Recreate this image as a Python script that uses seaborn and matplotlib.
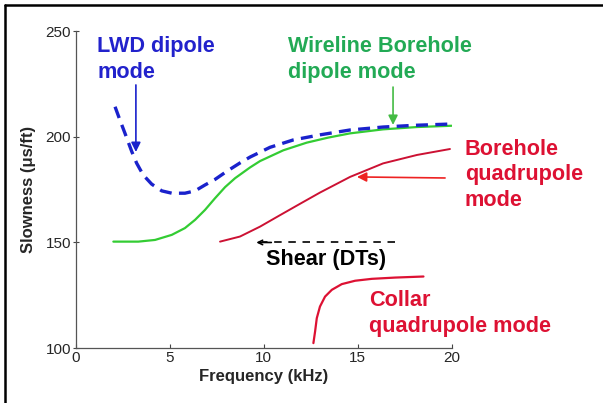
import matplotlib
matplotlib.use("Agg")
import matplotlib.pyplot as plt
import seaborn as sns
import pandas as pd
from matplotlib.lines import Line2D

# ---- data ----
lwd_freq = [2.08, 2.34, 2.61, 2.97, 3.23, 3.58, 4.03, 4.57, 5.10, 5.80, 6.34, 6.87,
            7.40, 8.02, 8.73, 9.27, 10.33, 11.57, 12.99, 14.59, 16.35, 18.0, 19.9]
lwd_slow = [214.2, 207.9, 201.6, 193.0, 187.5, 181.9, 177.6, 174.4, 173.3, 173.3, 174.4, 177.2,
            179.8, 183.6, 187.6, 190.4, 195.0, 198.5, 200.9, 203.2, 204.6, 205.4, 206.0]

wire_freq = [1.99, 3.32, 4.21, 5.10, 5.80, 6.34, 6.87, 7.40, 7.94, 8.47, 9.27, 9.80,
             11.04, 12.28, 13.43, 14.59, 16.35, 18.16, 20.0]
wire_slow = [150.4, 150.4, 151.2, 153.6, 156.8, 160.7, 165.4, 170.9, 176.2, 180.4, 185.5, 188.5,
             193.6, 197.2, 199.6, 201.6, 203.5, 204.6, 205.2]

bh_freq = [7.67, 8.73, 9.80, 10.86, 11.93, 12.99, 14.59, 16.35, 18.16, 19.91]
bh_slow = [150.4, 152.8, 157.5, 162.9, 168.3, 173.6, 181.0, 187.4, 191.4, 194.2]

collar_freq = [12.64, 12.73, 12.82, 12.99, 13.26, 13.62, 14.15, 14.86, 15.75, 16.99, 18.50]
collar_slow = [102.4, 107.9, 114.2, 119.7, 124.4, 127.6, 130.3, 131.9, 132.8, 133.4, 133.9]

shear_freq = [17.0, 9.9]
shear_slow = [150.0, 150.0]

x_ticks = [0, 5, 10, 15, 20]
y_ticks = [100, 150, 200, 250]

sns.set_style("ticks")
plt.rcParams['font.family'] = ['Liberation Sans', 'DejaVu Sans']

fig = plt.figure(figsize=(6.03, 4.03), dpi=100)
ax = fig.add_axes([0.126, 0.136, 0.623, 0.787])

def df(x, y):
    return pd.DataFrame({"freq": x, "slow": y})

sns.lineplot(data=df(wire_freq, wire_slow), x="freq", y="slow", ax=ax,
             color="#33cc33", lw=1.6, sort=False)
sns.lineplot(data=df(lwd_freq, lwd_slow), x="freq", y="slow", ax=ax,
             color="#1a22cc", lw=2.4, sort=False)
ax.lines[-1].set_dashes((3.6, 2.2))
sns.lineplot(data=df(bh_freq, bh_slow), x="freq", y="slow", ax=ax,
             color="#cc1133", lw=1.4, sort=False)
sns.lineplot(data=df(collar_freq, collar_slow), x="freq", y="slow", ax=ax,
             color="#dd1133", lw=1.6, sort=False)
sns.lineplot(data=df(shear_freq, shear_slow), x="freq", y="slow", ax=ax,
             color="black", lw=1.2, sort=False)
ax.lines[-1].set_dashes((4.5, 4))
ax.annotate("", xy=(9.6, 150), xytext=(10.4, 150),
            arrowprops=dict(arrowstyle="->", color="black", lw=1.2,
                            shrinkA=0, shrinkB=0, mutation_scale=8))

ax.set_xlim(0, 20)
ax.set_ylim(100, 250)
ax.set_xticks(x_ticks)
ax.set_yticks(y_ticks)
ax.tick_params(axis="x", direction="in", length=3, labelsize=11, pad=2, color="#444444")
ax.tick_params(axis="y", direction="inout", length=5, labelsize=11, pad=1, color="#444444")
for s in ["left", "bottom"]:
    ax.spines[s].set_color("#555555")
    ax.spines[s].set_linewidth(0.9)
sns.despine(ax=ax)
ax.set_xlabel("Frequency (kHz)", fontsize=12, fontweight="bold", labelpad=3)
ax.set_ylabel("Slowness (\u03bcs/ft)", fontsize=12, fontweight="bold", labelpad=7)

# ---- annotations ----
blue_t = "#2222cc"
green_t = "#22aa55"
red_t = "#dd1133"
fs = 15.6
ls = 1.3
ax.text(1.12, 236.5, "LWD dipole\nmode", color=blue_t, fontsize=fs, fontweight="bold",
        ha="left", va="center", linespacing=ls)
ax.text(11.29, 236.7, "Wireline Borehole\ndipole mode", color=green_t, fontsize=fs,
        fontweight="bold", ha="left", va="center", linespacing=ls)
ax.text(20.71, 182.0, "Borehole\nquadrupole\nmode", color=red_t, fontsize=fs,
        fontweight="bold", ha="left", va="center", linespacing=ls, clip_on=False)
ax.text(10.1, 141.8, "Shear (DTs)", color="black", fontsize=fs, fontweight="bold",
        ha="left", va="center")
ax.text(15.6, 116.3, "Collar\nquadrupole mode", color=red_t, fontsize=fs,
        fontweight="bold", ha="left", va="center", linespacing=ls)

ax.annotate("", xy=(3.19, 192.8), xytext=(3.19, 224.5),
            arrowprops=dict(arrowstyle="-|>", color="#1a22cc", lw=1.2,
                            shrinkA=0, shrinkB=0, mutation_scale=14))
ax.annotate("", xy=(16.88, 205.6), xytext=(16.88, 223.5),
            arrowprops=dict(arrowstyle="-|>", color="#44bb44", lw=1.2,
                            shrinkA=0, shrinkB=0, mutation_scale=14))
ax.annotate("", xy=(14.96, 181.0), xytext=(19.65, 180.5),
            arrowprops=dict(arrowstyle="-|>", color="#ee2222", lw=1.2,
                            shrinkA=0, shrinkB=0, mutation_scale=14),
            annotation_clip=False)

# figure frame (left and top edges)
fig.add_artist(Line2D([0.0085, 0.0085], [0.0, 0.9875], transform=fig.transFigure,
                      color="black", lw=1.8))
fig.add_artist(Line2D([0.0085, 1.0], [0.9875, 0.9875], transform=fig.transFigure,
                      color="black", lw=1.8))

fig.savefig("out.png", dpi=100)
